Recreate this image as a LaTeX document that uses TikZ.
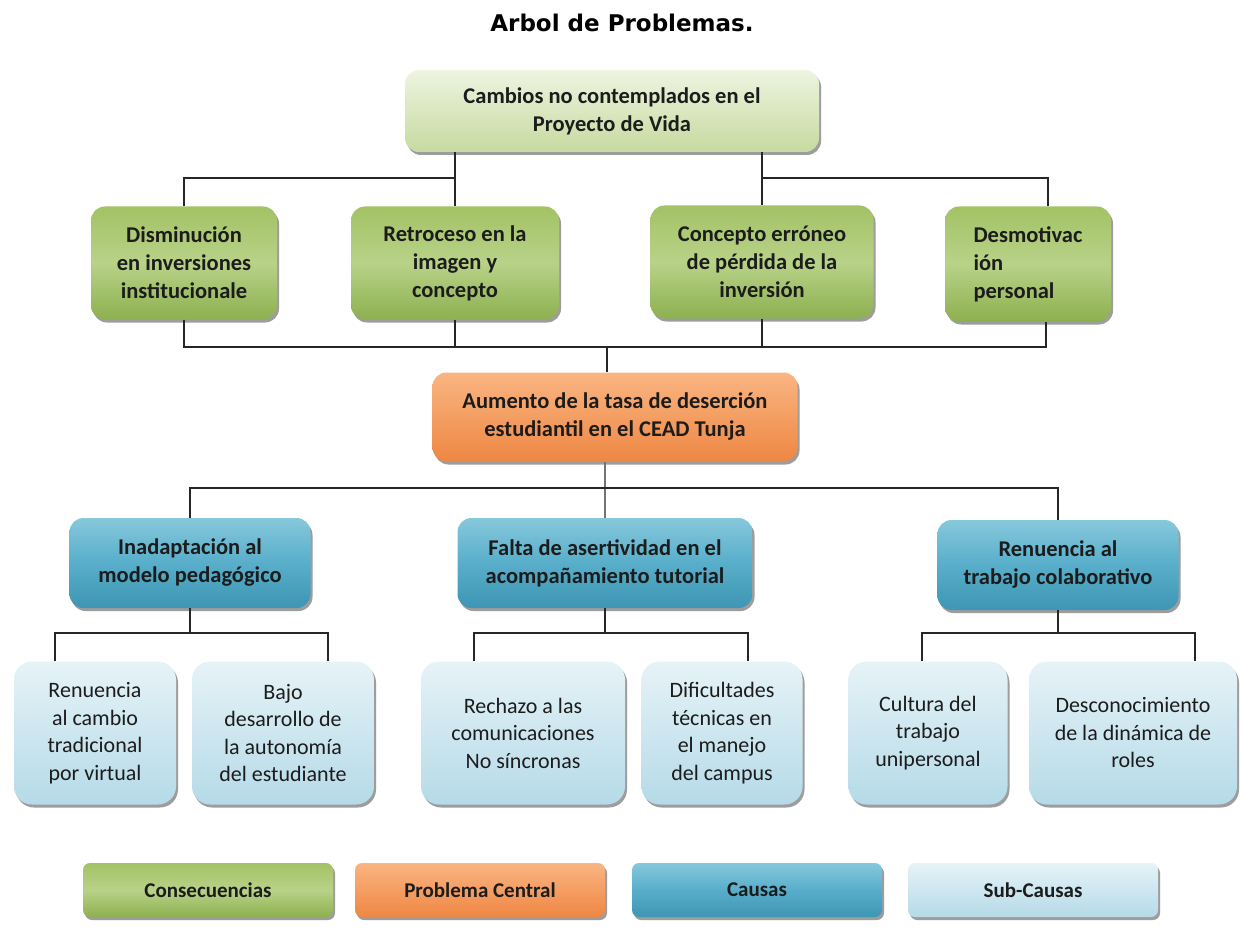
\documentclass[tikz,border=0pt]{standalone}
\usepackage{fontspec}
\setmainfont{Carlito}
\newfontfamily\titlefont{DejaVu Sans}
\usetikzlibrary{shadows}
\usetikzlibrary{positioning}
\definecolor{txt}{HTML}{1C1C1C}
\definecolor{gtop}{HTML}{A3C265}
\definecolor{gmid}{HTML}{B8D288}
\definecolor{gbot}{HTML}{8DB04F}
\definecolor{ltop}{HTML}{EEF4E0}
\definecolor{lbot}{HTML}{C6DAA0}
\definecolor{otop}{HTML}{FAB582}
\definecolor{obot}{HTML}{EE8743}
\definecolor{btop}{HTML}{86C8DC}
\definecolor{bmid}{HTML}{58AECA}
\definecolor{bbot}{HTML}{3E96B4}
\definecolor{stop}{HTML}{E6F3F7}
\definecolor{sbot}{HTML}{B5DAE8}

\begin{document}
\begin{tikzpicture}[x=1pt,y=-1pt,
  box/.style={rounded corners=14pt,align=center,text=txt,inner sep=4pt,
    drop shadow={shadow xshift=2pt,shadow yshift=-3pt,opacity=.55,fill=black!70},
    font=\bfseries\fontsize{22.5}{28}\selectfont},
  conbox/.style={box,top color=gtop,bottom color=gbot,middle color=gmid},
  rootbox/.style={box,top color=ltop,bottom color=lbot},
  cenbox/.style={box,top color=otop,bottom color=obot},
  causebox/.style={box,top color=btop,bottom color=bbot,middle color=bmid},
  subbox/.style={box,top color=stop,bottom color=sbot,rounded corners=18pt,
    font=\fontsize{22}{27.5}\selectfont},
  keybox/.style={box,rounded corners=7pt,minimum height=54pt,minimum width=250pt,
    font=\bfseries\fontsize{21}{26}\selectfont},
  link/.style={draw=black!85,line width=1.3pt}]
\useasboundingbox (0,0) rectangle (1243,936);
\node[anchor=base,font=\titlefont\bfseries\fontsize{23}{28}\selectfont] (title) at (622,32) {Arbol de Problemas.};
% consecuencias
\node[rootbox,minimum width=414pt,minimum height=82pt] (root) at (612,111) {Cambios no contemplados en el\\Proyecto de Vida};
\node[conbox,minimum width=186pt,minimum height=113pt] (dis) at (184,263) {Disminución\\en inversiones\\institucionale};
\node[conbox,minimum width=208pt,minimum height=113pt] (ret) at (455,263) {Retroceso en la\\imagen y\\concepto};
\node[conbox,minimum width=223pt,minimum height=113pt] (con) at (762,262) {Concepto erróneo\\de pérdida de la\\inversión};
\node[conbox,minimum width=166pt,minimum height=115pt,align=left] (des) at (1028,264) {Desmotivac\\ión\\personal};
% problema central
\node[cenbox,minimum width=365pt,minimum height=89pt] (cen) at (615,417) {Aumento de la tasa de deserción\\estudiantil en el CEAD Tunja};
% causas
\node[causebox,minimum width=241pt,minimum height=90pt] (ina) at (190,563) {Inadaptación al\\modelo pedagógico};
\node[causebox,minimum width=295pt,minimum height=90pt] (fal) at (605,563) {Falta de asertividad en el\\acompañamiento tutorial};
\node[causebox,minimum width=241pt,minimum height=90pt] (ren) at (1058,565) {Renuencia al\\trabajo colaborativo};
% sub-causas
\node[subbox,minimum width=162pt,minimum height=143pt] (s1) at (95,733) {Renuencia\\al cambio\\tradicional\\por virtual};
\node[subbox,minimum width=182pt,minimum height=143pt] (s2) at (283,733) {Bajo\\desarrollo de\\la autonomía\\del estudiante};
\node[subbox,minimum width=204pt,minimum height=143pt] (s3) at (523,733) {Rechazo a las\\comunicaciones\\No síncronas};
\node[subbox,minimum width=161pt,minimum height=143pt] (s4) at (722,733) {Dificultades\\técnicas en\\el manejo\\del campus};
\node[subbox,minimum width=159pt,minimum height=143pt] (s5) at (928,733) {Cultura del\\trabajo\\unipersonal};
\node[subbox,minimum width=208pt,minimum height=143pt] (s6) at (1133,733) {Desconocimiento\\de la dinámica de\\roles};
% leyenda
\node[keybox,top color=gtop,bottom color=gbot,middle color=gmid] (k1) at (208,890) {Consecuencias};
\node[keybox,top color=otop,bottom color=obot] (k2) at (480,890) {Problema Central};
\node[keybox,top color=btop,bottom color=bbot,middle color=bmid] (k3) at (757,890) {Causas};
\node[keybox,top color=stop,bottom color=sbot] (k4) at (1033,890) {Sub-Causas};
% conectores
\coordinate (jt) at (612,178);
\coordinate (jb) at (612,347);
\coordinate (jc) at (612,488);
\coordinate (js) at (612,633);
\coordinate (desN) at ([xshift=20pt]des.north);
\coordinate (desS) at ([xshift=18pt]des.south);
\coordinate (cenN) at ([xshift=-8pt]cen.north);
\coordinate (s1N) at ([xshift=-40pt]s1.north);
\coordinate (s2N) at ([xshift=45pt]s2.north);
\coordinate (s3N) at ([xshift=-49pt]s3.north);
\coordinate (s4N) at ([xshift=26pt]s4.north);
\coordinate (s5N) at ([xshift=-6pt]s5.north);
\coordinate (s6N) at ([xshift=62pt]s6.north);
\draw[link] (root.south -| ret.north) -- (ret.north);
\draw[link] (root.south -| con.north) -- (con.north);
\draw[link] (dis.north) |- (jt -| ret.north);
\draw[link] (desN) |- (jt -| con.north);
\draw[link] (dis.south) |- (jb -| desS) -- (desS);
\draw[link] (ret.south) -- (ret.south |- jb);
\draw[link] (con.south) -- (con.south |- jb);
\draw[link] (cenN) -- (cenN |- jb);
\draw[link,draw=black!55] (cen.south -| fal.north) -- (fal.north);
\draw[link] (ina.north) |- (jc -| ren.north) -- (ren.north);
\draw[link] (ina.south) -- (ina.south |- js);
\draw[link] (fal.south) -- (fal.south |- js);
\draw[link] (ren.south) -- (ren.south |- js);
\draw[link] (s1N) |- (js -| s2N) -- (s2N);
\draw[link] (s3N) |- (js -| s4N) -- (s4N);
\draw[link] (s5N) |- (js -| s6N) -- (s6N);
\end{tikzpicture}
\end{document}
